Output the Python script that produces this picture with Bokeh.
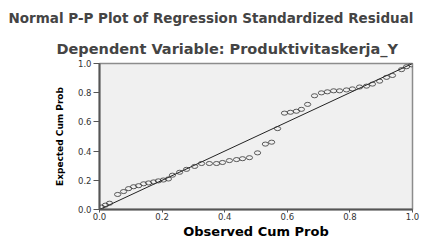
from bokeh.plotting import figure
from bokeh.models import Range1d, Title, FixedTicker, PrintfTickFormatter
from bokeh.embed import file_html
from bokeh.resources import INLINE

title_text = "Normal P-P Plot of Regression Standardized Residual"
subtitle_text = "Dependent Variable: Produktivitaskerja_Y"
x_label = "Observed Cum Prob"
y_label = "Expected Cum Prob"
tick_values = [0.0, 0.2, 0.4, 0.6, 0.8, 1.0]

observed = [0.006, 0.019, 0.032, 0.058, 0.077, 0.093, 0.109, 0.125, 0.141, 0.157,
            0.173, 0.188, 0.204, 0.220, 0.233, 0.256, 0.278, 0.304, 0.326, 0.351,
            0.374, 0.393, 0.415, 0.438, 0.457, 0.479, 0.505, 0.530, 0.550, 0.569,
            0.591, 0.610, 0.629, 0.645, 0.665, 0.687, 0.709, 0.728, 0.748, 0.767,
            0.789, 0.808, 0.831, 0.853, 0.872, 0.895, 0.917, 0.936, 0.965, 0.981,
            0.997]
expected = [0.017, 0.030, 0.043, 0.103, 0.123, 0.143, 0.156, 0.163, 0.176, 0.182,
            0.189, 0.196, 0.202, 0.209, 0.235, 0.255, 0.275, 0.295, 0.315, 0.315,
            0.315, 0.322, 0.335, 0.342, 0.348, 0.355, 0.388, 0.448, 0.461, 0.554,
            0.660, 0.666, 0.673, 0.686, 0.720, 0.779, 0.799, 0.806, 0.813, 0.813,
            0.819, 0.826, 0.839, 0.845, 0.859, 0.879, 0.905, 0.918, 0.958, 0.978,
            0.991]
diag = [0.0, 1.0]

FONT = "DejaVu Sans"

p = figure(frame_width=313, frame_height=146, output_backend="svg", toolbar_location=None,
           x_range=Range1d(0, 1), y_range=Range1d(0, 1),
           min_border_left=99, min_border_right=25, min_border_top=40,
           min_border_bottom=0, title=None)

p.background_fill_color = "#f0f0f0"
p.border_fill_color = "white"
p.outline_line_color = "#8c8c8c"
p.outline_line_width = 1.5
p.xgrid.visible = False
p.ygrid.visible = False

sub = Title(text=subtitle_text, align="left", offset=-43, text_font=FONT,
            text_font_size="14.5px", text_font_style="bold", standoff=13)
main = Title(text=title_text, align="left", offset=-91, text_font=FONT,
             text_font_size="13.5px", text_font_style="bold", standoff=14)
p.add_layout(sub, "above")
p.add_layout(main, "above")

for ax in (p.xaxis[0], p.yaxis[0]):
    ax.ticker = FixedTicker(ticks=tick_values)
    ax.formatter = PrintfTickFormatter(format="%.1f")
    ax.minor_tick_line_color = None
    ax.major_label_text_font = FONT
    ax.major_label_text_font_size = "8.5px"
    ax.major_label_text_color = "#333333"
    ax.axis_line_color = "#555555"
    ax.axis_line_width = 2
    ax.major_tick_line_color = "#555555"
    ax.major_tick_in = 0
    ax.axis_label_text_font = FONT
    ax.axis_label_text_font_style = "bold"
    ax.axis_label_text_color = "black"

p.xaxis.axis_label = x_label
p.xaxis.axis_label_text_font_size = "13px"
p.xaxis.major_tick_out = 3
p.xaxis.major_label_standoff = 0
p.xaxis.axis_label_standoff = 1

p.yaxis.axis_label = y_label
p.yaxis.axis_label_text_font_size = "9px"
p.yaxis.major_tick_out = 6
p.yaxis.major_label_standoff = 2
p.yaxis.axis_label_standoff = 10

p.line(diag, diag, line_color="#222222", line_width=1)
p.ellipse(x=observed, y=expected, width=0.02, height=0.028,
          fill_color=None, line_color="#333333", line_width=0.8)

open("out.html", "w").write(file_html(p, INLINE))
